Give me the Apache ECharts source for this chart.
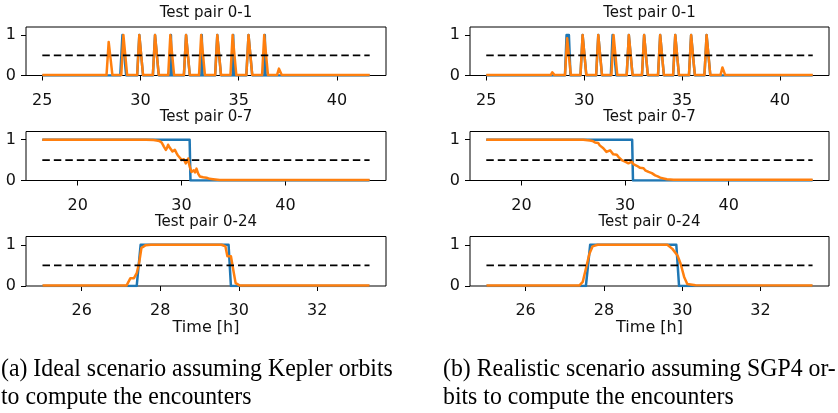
<!DOCTYPE html>
<html>
<head>
<meta charset="utf-8">
<script src="https://cdn.jsdelivr.net/npm/echarts@6/dist/echarts.min.js"></script>
<style>
html,body{margin:0;padding:0;background:#fff;}
#chart{width:838px;height:413px;}
</style>
</head>
<body>
<div id="chart"></div>
<script>
// ---------- data (time [h], value) ----------
const titles = ['Test pair 0-1', 'Test pair 0-7', 'Test pair 0-24'];
const captionA = ['(a) Ideal scenario assuming Kepler orbits', 'to compute the encounters'];
const captionB = ['(b) Realistic scenario assuming SGP4 or-', 'bits to compute the encounters'];
const xTicks01 = [25, 30, 35, 40];
const xTicks07 = [20, 30, 40];
const xTicks024 = [26, 28, 30, 32];
const yTicks = [0, 1];
const threshold = 0.5;
const span01 = [25, 41.67];
const span07 = [16.6, 48.1];
const span024 = [25, 33.33];

// Pair 0-1, Kepler
const p01KeplerTruth = [[25,0],[28.97,0],[29.08,1],[29.16,1],[29.27,0],
 [29.83,0],[29.94,1],[30.02,1],[30.13,0],[30.63,0],[30.74,1],[30.82,1],[30.93,0],
 [31.53,0],[31.55,1],[31.57,1],[31.59,0],[32.21,0],[32.32,1],[32.4,1],[32.51,0],
 [33.1,0],[33.12,1],[33.14,1],[33.16,0],[33.8,0],[33.91,1],[33.99,1],[34.1,0],
 [34.7,0],[34.72,1],[34.74,1],[34.76,0],[35.39,0],[35.5,1],[35.58,1],[35.69,0],
 [36.31,0],[36.33,1],[36.35,1],[36.37,0],[41.67,0]];
const p01KeplerPred = [[25,0.01],[28.27,0.01],[28.38,0.83],[28.46,0.83],[28.57,0.01],
 [29.02,0.01],[29.13,1],[29.21,1],[29.32,0.01],[29.83,0.01],[29.94,1],[30.02,1],[30.13,0.01],
 [30.63,0.01],[30.74,1],[30.82,1],[30.93,0.01],[31.41,0.01],[31.52,1],[31.6,1],[31.71,0.01],
 [32.21,0.01],[32.32,1],[32.4,1],[32.51,0.01],[32.98,0.01],[33.09,1],[33.17,1],[33.28,0.01],
 [33.8,0.01],[33.91,1],[33.99,1],[34.1,0.01],[34.58,0.01],[34.69,1],[34.77,1],[34.88,0.01],
 [35.39,0.01],[35.5,1],[35.58,1],[35.69,0.01],[36.19,0.01],[36.3,1],[36.38,0.98],[36.49,0.01],
 [36.95,0.01],[37.05,0.17],[37.09,0.17],[37.19,0.01],[41.67,0.01]];
// Pair 0-1, SGP4
const p01Sgp4Truth = [[25,0],[29.02,0],[29.1,1],[29.22,1],[29.3,0],
 [29.81,0],[29.92,1],[30.0,1],[30.11,0],[30.61,0],[30.72,1],[30.8,1],[30.91,0],
 [31.36,0],[31.45,1],[31.53,1],[31.64,0],[32.17,0],[32.28,1],[32.36,1],[32.47,0],
 [32.95,0],[33.06,1],[33.14,1],[33.25,0],[33.77,0],[33.88,1],[33.96,1],[34.07,0],
 [34.54,0],[34.65,1],[34.73,1],[34.84,0],[35.35,0],[35.46,1],[35.54,1],[35.65,0],
 [36.14,0],[36.25,1],[36.33,1],[36.44,0],[41.67,0]];
const p01Sgp4Pred = [[25,0.01],[28.29,0.01],[28.37,0.08],[28.41,0.08],[28.49,0.01],
 [29.02,0.01],[29.13,0.92],[29.21,0.92],[29.32,0.01],[29.81,0.01],[29.92,1],[30.0,1],[30.11,0.01],
 [30.61,0.01],[30.72,1],[30.8,1],[30.91,0.01],[31.39,0.01],[31.5,1],[31.58,1],[31.69,0.01],
 [32.17,0.01],[32.28,1],[32.36,1],[32.47,0.01],[32.95,0.01],[33.06,1],[33.14,1],[33.25,0.01],
 [33.77,0.01],[33.88,1],[33.96,1],[34.07,0.01],[34.54,0.01],[34.65,1],[34.73,1],[34.84,0.01],
 [35.35,0.01],[35.46,1],[35.54,1],[35.65,0.01],[36.14,0.01],[36.25,1],[36.33,1],[36.44,0.01],
 [36.96,0.01],[37.06,0.2],[37.1,0.2],[37.2,0.01],[41.67,0.01]];
// Pair 0-7
const p07KeplerTruth = [[16.6,1],[30.78,1],[30.86,0],[48.1,0]];
const p07KeplerPred = [[16.6,1],[26.6,1],[27.3,0.99],[27.6,0.98],[27.85,0.97],[28.08,0.93],[28.2,0.88],[28.3,0.83],[28.49,0.75],[28.6,0.8],[28.71,0.875],[28.82,0.82],[28.94,0.79],
 [29.13,0.71],[29.25,0.7],[29.36,0.75],[29.52,0.67],[29.63,0.62],[29.74,0.58],[29.86,0.55],[30.0,0.5],[30.12,0.47],[30.22,0.52],[30.41,0.42],[30.52,0.45],[30.64,0.54],[30.73,0.4],[30.8,0.33],
 [30.96,0.21],[31.06,0.17],[31.18,0.25],[31.3,0.2],[31.44,0.29],[31.6,0.17],[31.76,0.1],[31.9,0.12],[32.08,0.08],[32.25,0.06],[32.4,0.07],[32.7,0.04],[33.04,0.03],[33.68,0.01],[48.1,0.01]];
const p07Sgp4Truth = [[16.6,1],[30.68,1],[30.76,0],[48.1,0]];
const p07Sgp4Pred = [[16.6,1],[25.96,1],[26.6,0.98],[26.85,0.97],[27.1,0.93],[27.25,0.95],[27.4,0.92],[27.55,0.86],[27.74,0.83],[27.9,0.79],[28.06,0.75],[28.2,0.7],[28.38,0.67],
 [28.55,0.74],[28.7,0.71],[28.86,0.64],[29.03,0.625],[29.2,0.63],[29.35,0.58],[29.5,0.55],[29.68,0.5],[29.84,0.52],[30.0,0.46],[30.16,0.48],[30.32,0.42],[30.48,0.44],[30.65,0.46],[30.8,0.4],[30.97,0.375],[31.13,0.36],[31.29,0.33],
 [31.45,0.31],[31.62,0.29],[31.78,0.3],[31.94,0.25],[32.1,0.23],[32.26,0.21],[32.42,0.2],[32.58,0.18],[32.74,0.14],[32.9,0.125],[33.15,0.1],[33.39,0.07],[33.7,0.05],[34.03,0.03],[34.68,0.02],[48.1,0.02]];
// Pair 0-24
const p024KeplerTruth = [[25,0],[27.4,0],[27.5,1],[29.74,1],[29.8,0],[33.33,0]];
const p024KeplerPred = [[25,0.01],[27.14,0.01],[27.24,0.19],[27.33,0.19],[27.4,0.31],[27.46,0.55],[27.52,0.92],
 [27.63,0.99],[27.76,1.0],[29.56,1.0],[29.66,0.96],[29.71,0.72],[29.8,0.72],[29.86,0.39],[29.92,0.07],[30.03,0.01],[33.33,0.01]];
const p024Sgp4Truth = [[25,0],[27.54,0],[27.65,1],[29.85,1],[29.92,0],[33.33,0]];
const p024Sgp4Pred = [[25,0.01],[27.37,0.01],[27.46,0.1],[27.54,0.42],[27.63,0.78],[27.71,0.96],[27.84,1.0],[29.62,1.0],
 [29.75,0.9],[29.88,0.74],[29.96,0.54],[30.05,0.22],[30.13,0.05],[30.34,0.02],[33.33,0.01]];

// ---------- layout ----------
const BLUE = '#1f77b4', ORANGE = '#ff7f0e';
const FONT = 'DejaVu Sans';
const colLeft = [26, 470], colWidth = [360, 359];
const rowTop = [27, 131.5, 236.5], rowHeight = [48.5, 49, 49.5];
const xRanges = [[24.17, 42.5], [15.03, 49.68], [24.58, 33.75]];
const xTickSets = [xTicks01, xTicks07, xTicks024];
const spans = [span01, span07, span024];
const dataSets = [
  [[p01KeplerTruth, p01KeplerPred], [p01Sgp4Truth, p01Sgp4Pred]],
  [[p07KeplerTruth, p07KeplerPred], [p07Sgp4Truth, p07Sgp4Pred]],
  [[p024KeplerTruth, p024KeplerPred], [p024Sgp4Truth, p024Sgp4Pred]]
];

const grid = [], xAxis = [], yAxis = [], series = [], graphic = [];
let idx = 0;
for (let r = 0; r < 3; r++) {
  for (let c = 0; c < 2; c++) {
    grid.push({left: colLeft[c], top: rowTop[r], width: colWidth[c], height: rowHeight[r],
      show: true, borderColor: '#000', borderWidth: 1, backgroundColor: 'transparent', containLabel: false});
    xAxis.push({type: 'value', gridIndex: idx, min: xRanges[r][0], max: xRanges[r][1],
      axisLine: {show: false}, splitLine: {show: false},
      axisTick: {show: true, length: 5, lineStyle: {color: '#000', width: 1}, customValues: xTickSets[r]},
      axisLabel: {show: true, customValues: xTickSets[r], color: '#111', fontFamily: FONT, fontSize: 16, margin: 17},
      name: r === 2 ? 'Time [h]' : '', nameLocation: 'middle', nameGap: 33,
      nameTextStyle: {color: '#111', fontFamily: FONT, fontSize: 16}
    });
    yAxis.push({type: 'value', gridIndex: idx, min: 0, max: 1.2,
      axisLine: {show: false}, splitLine: {show: false},
      axisTick: {show: true, length: 5, lineStyle: {color: '#000', width: 1}, customValues: yTicks},
      axisLabel: {show: true, customValues: yTicks, color: '#111', fontFamily: FONT, fontSize: 16, margin: 10}
    });
    const [truth, pred] = dataSets[r][c];
    const common = {type: 'line', xAxisIndex: idx, yAxisIndex: idx, symbol: 'none', showSymbol: false,
      silent: true, animation: false, clip: true};
    series.push(Object.assign({}, common, {data: truth, lineStyle: {color: BLUE, width: 2.5, join: 'round'}, z: 2}));
    series.push(Object.assign({}, common, {data: pred, lineStyle: {color: ORANGE, width: 2.5, join: 'round'}, z: 3}));
    series.push(Object.assign({}, common, {data: [[spans[r][0], threshold], [spans[r][1], threshold]],
      lineStyle: {color: '#000', width: 1.8, type: [7.5, 4]}, z: 4}));
    graphic.push({type: 'text', x: colLeft[c] + colWidth[c] / 2, y: rowTop[r] - 14,
      style: {text: titles[r], textAlign: 'center', textVerticalAlign: 'middle', font: '15px "DejaVu Sans"', fill: '#111'}});
    idx++;
  }
}
const capFont = '23.8px "Liberation Serif"';
[[captionA, 1], [captionB, 443]].forEach(([lines, x]) => {
  lines.forEach((t, i) => {
    graphic.push({type: 'text', x: x, y: 369 + i * 28, scaleY: 1.1,
      style: {text: t, textAlign: 'left', textVerticalAlign: 'middle', font: capFont, fill: '#000'}});
  });
});

const chart = echarts.init(document.getElementById('chart'), null, {renderer: 'canvas'});
chart.setOption({animation: false, grid, xAxis, yAxis, series, graphic});
</script>
</body>
</html>
